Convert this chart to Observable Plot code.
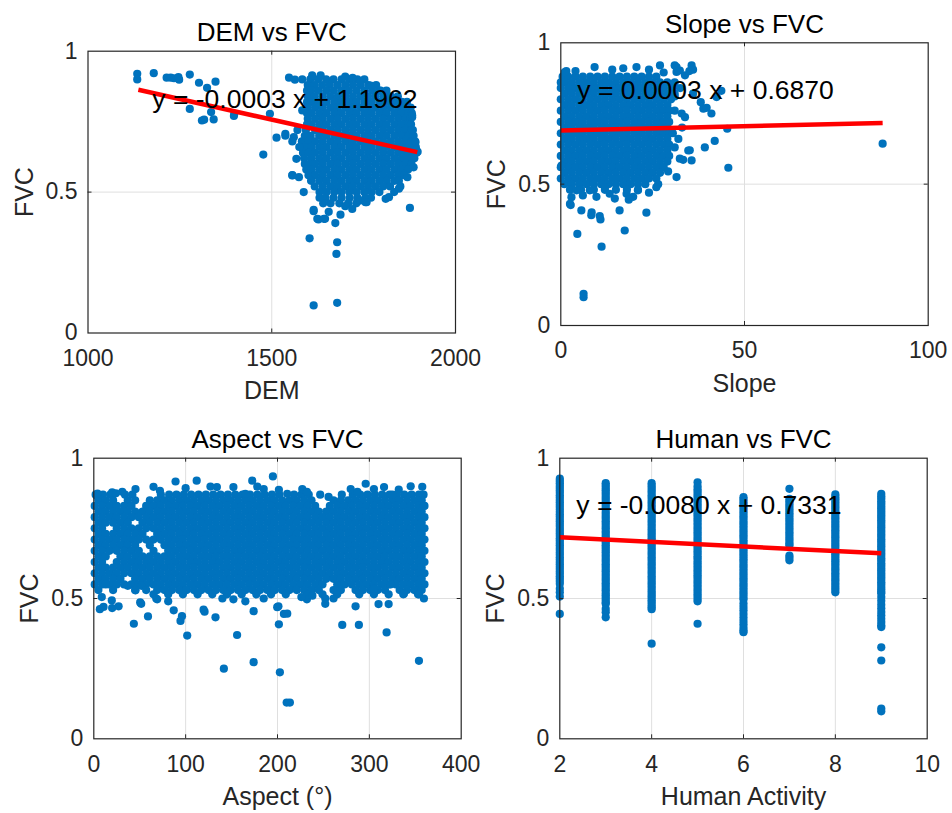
<!DOCTYPE html>
<html><head><meta charset="utf-8">
<script src="https://cdn.jsdelivr.net/npm/d3@7"></script>
<script src="https://cdn.jsdelivr.net/npm/@observablehq/plot@0.6"></script>
<style>
body{margin:0;background:#fff;}
#wrap{position:relative;width:952px;height:813px;overflow:hidden;background:#fff;}
#wrap svg{position:absolute;overflow:visible;}
</style></head><body><div id="wrap"></div>
<script>
// ---------------- DATA ----------------
// Panel 1: DEM vs FVC
const demTicks = [1000, 1500, 2000];
const fvcTicks = [0, 0.5, 1];
const demFitX = [1137, 1896];
const demFitY = [0.863, 0.642];
const demRows = [
 [0.90,[1605,1626,1648,1668,1690,1711,1733,1752]],
 [0.88,[1598,1616,1637,1658,1679,1700,1721,1742,1763,1784]],
 [0.86,[1596,1607,1627,1648,1669,1690,1710,1731,1752,1773,1793,1812]],
 [0.84,[1598,1617,1638,1659,1680,1700,1721,1742,1762,1783,1804,1824,1843]],
 [0.82,[1596,1608,1628,1649,1670,1690,1711,1731,1752,1772,1793,1813,1834,1854,1868]],
 [0.80,[1598,1618,1639,1660,1680,1701,1721,1742,1762,1783,1803,1824,1844,1864,1878]],
 [0.78,[1596,1608,1629,1649,1670,1690,1711,1731,1752,1772,1793,1813,1834,1854,1872,1881]],
 [0.76,[1598,1618,1639,1660,1680,1701,1721,1742,1762,1783,1803,1824,1844,1864,1877]],
 [0.74,[1596,1608,1629,1649,1670,1690,1711,1731,1752,1772,1793,1813,1834,1854,1872,1879]],
 [0.72,[1593,1618,1639,1660,1680,1701,1721,1742,1762,1783,1803,1824,1844,1864,1880]],
 [0.70,[1590,1606,1629,1649,1670,1690,1711,1731,1752,1772,1793,1813,1834,1854,1872,1886]],
 [0.68,[1582,1600,1618,1639,1660,1680,1701,1721,1742,1762,1783,1803,1824,1844,1864,1881,1890]],
 [0.66,[1580,1596,1608,1629,1649,1670,1690,1711,1731,1752,1772,1793,1813,1834,1854,1872,1892]],
 [0.64,[1585,1600,1618,1639,1660,1680,1701,1721,1742,1762,1783,1803,1824,1844,1864,1880,1894]],
 [0.62,[1588,1608,1629,1649,1670,1690,1711,1731,1752,1772,1793,1813,1834,1854,1872,1888]],
 [0.60,[1590,1603,1618,1639,1660,1680,1701,1721,1742,1762,1783,1803,1824,1844,1864,1880]],
 [0.58,[1594,1608,1629,1649,1670,1690,1711,1731,1752,1772,1793,1813,1834,1854,1871]],
 [0.56,[1600,1618,1639,1660,1680,1701,1721,1742,1762,1783,1803,1824,1844,1860]],
 [0.54,[1607,1629,1649,1670,1690,1711,1731,1752,1772,1793,1813,1834,1846]],
 [0.52,[1617,1639,1660,1680,1701,1721,1742,1762,1783,1803,1822]],
 [0.50,[1630,1649,1670,1690,1711,1731,1752,1772,1793]],
 [0.48,[1646,1668,1690,1712,1733,1755,1770]],
 [0.46,[1660,1684,1708,1730]]
];
const demOutliers = [
 [1134,0.92],[1134,0.90],[1179,0.922],[1214,0.906],[1225,0.906],[1234,0.904],[1248,0.899],[1246,0.908],
 [1277,0.917],[1302,0.888],[1324,0.870],[1347,0.892],[1277,0.795],[1310,0.754],[1316,0.757],[1335,0.784],
 [1342,0.758],[1397,0.770],[1398,0.778],[1477,0.633],[1513,0.693],[1537,0.700],[1495,0.778],[1547,0.906],
 [1563,0.899],[1583,0.900],[1556,0.559],[1587,0.500],[1614,0.432],[1627,0.403],[1645,0.405],[1673,0.390],
 [1687,0.420],[1719,0.440],[1755,0.464],[1876,0.444],[1810,0.476],[1833,0.500],[1850,0.520],[1603,0.336],
 [1678,0.322],[1676,0.281],[1614,0.098],[1678,0.107],[1885,0.640],[1897,0.643],[1882,0.766],[1884,0.720],
 [1769,0.878],[1796,0.860],[1823,0.837],[1882,0.772],[1891,0.677],[1893,0.650],[1886,0.588],[1869,0.553],
 [1846,0.512],[1819,0.482],[1758,0.464],[1624,0.405],[1642,0.405],[1614,0.437],[1574,0.553],[1556,0.560],
 [1567,0.618],[1560,0.695],[1537,0.707],[1583,0.790],[1575,0.660],[1570,0.720],[1655,0.430],[1700,0.450],
 [1740,0.470],[1610,0.914],[1633,0.914],[1700,0.910],[1720,0.905],[1640,0.460],[1630,0.480],[1556,0.68]
];

// Panel 2: Slope vs FVC
const slopeTicks = [0, 50, 100];
const slopeFitX = [0, 87.6];
const slopeFitY = [0.690, 0.716];
const slopeRows = [
 [0.88,[0.5,2,4,6,8,10,12,14,16,18,20,22,24,26]],
 [0.86,[0,1,3,5,7,9,11,13,15,17,19,21,23,25,27,29,31]],
 [0.84,[0,2,4,6,8,10,12,14,16,18,20,22,24,26,28,30,32.5]],
 [0.82,[1,3,5,7,9,11,13,15,17,19,21,23,25,27,29,31]],
 [0.80,[0,2,4,6,8,10,12,14,16,18,20,22,24,26,28,30]],
 [0.78,[1,3,5,7,9,11,13,15,17,19,21,23,25,27,29]],
 [0.76,[0,2,4,6,8,10,12,14,16,18,20,22,24,26,28,29.5]],
 [0.74,[1,3,5,7,9,11,13,15,17,19,21,23,25,27,29]],
 [0.72,[0,2,4,6,8,10,12,14,16,18,20,22,24,26,28,29.5]],
 [0.70,[1,3,5,7,9,11,13,15,17,19,21,23,25,27,29]],
 [0.68,[0,2,4,6,8,10,12,14,16,18,20,22,24,26,28,29.5]],
 [0.66,[1,3,5,7,9,11,13,15,17,19,21,23,25,27,29]],
 [0.64,[0,2,4,6,8,10,12,14,16,18,20,22,24,26,28,29.5]],
 [0.62,[1,3,5,7,9,11,13,15,17,19,21,23,25,27,29]],
 [0.60,[0,2,4,6,8,10,12,14,16,18,20,22,24,26,28,29.5]],
 [0.58,[1,3,5,7,9,11,13,15,17,19,21,23,25,27,29]],
 [0.56,[0,2,4,6,8,10,12,14,16,18,20,22,24,26,28]],
 [0.54,[1,3,5,7,9,11,13,15,17,19,21,23,25,27]],
 [0.52,[0,2,4,6,8,10,12,14,16,18,20,22,24,26]],
 [0.50,[1,3,5,7,9,11,13,15,17,19,21,23]],
 [0.48,[2.5,5.5,9,12,15,18,21]]
];
const slopeOutliers = [
 [1.5,0.90],[1.1,0.896],[31,0.92],[32.4,0.902],[35.6,0.92],[36,0.905],[33.8,0.885],[31.5,0.914],[31.5,0.897],
 [35,0.90],[30.6,0.843],[31,0.81],[36,0.82],[38.8,0.767],[38.1,0.79],[39.7,0.77],[41,0.75],[42.4,0.808],
 [43.7,0.83],[45.3,0.696],[41.9,0.653],[39.2,0.63],[45.6,0.558],[35.1,0.62],[34.7,0.619],[35.6,0.584],
 [33.3,0.586],[32.4,0.59],[31.5,0.525],[29.2,0.545],[26.5,0.50],[26,0.489],[31,0.76],[32.9,0.75],
 [33.8,0.737],[33,0.70],[32,0.66],[31,0.63],[30.5,0.68],[2.9,0.454],[2.5,0.43],[5.6,0.407],[8.4,0.40],
 [10.6,0.387],[16,0.407],[17.4,0.336],[23.3,0.399],[11.1,0.279],[4.5,0.324],[6.2,0.10],[6.2,0.112],
 [7.9,0.478],[9.7,0.455],[13.3,0.466],[14.7,0.449],[17.9,0.466],[19.7,0.455],[21,0.478],[4.3,0.478],
 [0.2,0.566],[2.7,0.426],[8.3,0.39],[10.8,0.375],[87.6,0.643],[24,0.47],[12,0.49],[6,0.46],[18.5,0.445],
 [9.2,0.914],[20.6,0.914],[27,0.92],[14,0.905],[24,0.905],[4,0.90],[17,0.91],[28,0.895]
];

// Panel 3: Aspect vs FVC
const aspectTicks = [0, 100, 200, 300, 400];
const aspectRows = [
 [0.87,[2,10,18,34,42,73,82,90,98,106,114,122,130,138,146,154,162,170,178,186,194,202,218,226,234,270,282,290,298,306,314,322,330,338,346,354,359]],
 [0.85,[5,13,21,37,45,61,69,77,85,93,101,109,117,125,133,141,149,157,165,173,181,189,197,205,213,221,229,237,261,269,277,285,293,301,309,317,325,333,341,349,357]],
 [0.83,[1,9,17,25,33,41,57,65,73,81,89,97,105,113,121,129,137,145,153,161,169,177,185,193,201,209,217,225,233,241,257,265,273,281,289,297,305,313,321,329,337,345,353,360]],
 [0.81,[5,13,21,29,37,45,53,61,69,77,85,93,101,109,117,125,133,141,149,157,165,173,181,189,197,205,213,221,229,237,245,253,261,269,277,285,293,301,309,317,325,333,341,349,357]],
 [0.79,[1,9,17,25,33,41,49,57,65,73,81,89,97,105,113,121,129,137,145,153,161,169,177,185,193,201,209,217,225,233,241,249,257,265,273,281,289,297,305,313,321,329,337,345,353,360]],
 [0.77,[5,13,21,29,37,53,61,69,77,85,93,101,109,117,125,133,141,149,157,165,173,181,189,197,205,213,221,229,237,245,253,261,269,277,285,293,301,309,317,325,333,341,349,357]],
 [0.75,[1,9,25,33,41,49,57,65,73,81,89,97,105,113,121,129,137,145,153,161,169,177,185,193,201,209,217,225,233,241,249,257,265,273,281,289,297,305,313,321,329,337,345,353,360]],
 [0.73,[5,13,21,29,37,45,53,69,77,85,93,101,109,117,125,133,141,149,157,165,173,181,189,197,205,213,221,229,237,245,253,261,269,277,285,293,301,309,317,325,333,341,349,357]],
 [0.71,[1,9,17,25,33,41,49,57,65,73,81,89,97,105,113,121,129,137,145,153,161,169,177,185,193,201,209,217,225,233,241,249,257,265,273,281,289,297,305,313,321,329,337,345,353,360]],
 [0.69,[5,13,21,29,37,45,61,77,85,93,101,109,117,125,133,141,149,157,165,173,181,189,197,205,213,221,229,237,245,253,261,269,277,285,293,301,309,317,325,333,341,349,357]],
 [0.67,[1,9,17,25,33,41,49,65,81,89,97,105,113,121,129,137,145,153,161,169,177,185,193,201,209,217,225,233,241,249,257,265,273,281,289,297,305,313,321,329,337,345,353,360]],
 [0.65,[5,13,29,37,45,53,61,69,77,85,93,101,109,117,125,133,141,149,157,165,173,181,189,197,205,213,221,229,237,245,253,261,269,277,285,293,301,309,317,325,333,341,349,357]],
 [0.63,[1,9,25,33,41,49,57,65,73,81,89,97,105,113,121,129,137,145,153,161,169,177,185,193,201,209,217,225,233,241,249,257,265,273,281,289,297,305,313,321,329,337,345,353,360]],
 [0.61,[5,13,21,29,37,45,53,61,69,77,85,93,101,109,117,125,133,141,149,157,165,173,181,189,197,205,213,221,229,237,245,253,261,269,277,285,293,301,309,317,325,333,341,349,357]],
 [0.59,[1,9,17,25,33,41,49,57,65,73,81,89,97,105,113,121,129,137,145,153,161,169,177,185,193,201,209,217,225,233,241,249,257,265,273,281,289,297,305,313,321,329,337,345,353,360]],
 [0.57,[5,13,21,29,45,53,61,69,77,85,93,101,109,117,125,133,141,149,157,165,173,181,189,197,205,213,221,229,237,245,253,261,269,277,285,293,301,309,317,325,333,341,349,357]],
 [0.55,[1,9,17,25,33,41,49,57,65,73,81,89,97,105,113,121,129,137,145,153,161,169,177,185,193,201,209,217,225,233,241,249,265,273,281,289,297,305,313,321,329,337,345,353,360]],
 [0.53,[5,21,45,69,77,85,93,101,109,117,125,133,141,149,157,165,173,181,189,197,205,213,221,229,237,245,261,269,285,293,301,309,317,333,341,349,357]],
 [0.515,[65,81,97,113,129,145,161,177,193,209,233,249,265,289,305,321,337,353]]
];
const aspectOutliers = [
 [3.7,0.864],[4,0.874],[20,0.878],[24,0.875],[31,0.88],[45.4,0.89],[65,0.898],[72,0.884],[89,0.917],
 [100,0.893],[112,0.92],[127,0.899],[134,0.897],[152,0.897],[165,0.873],[172.5,0.92],[178,0.899],[185,0.89],
 [195,0.935],[201.5,0.887],[210.6,0.873],[227,0.89],[232,0.88],[246.5,0.87],[255.6,0.862],[279.7,0.89],
 [287,0.88],[296,0.909],[305,0.89],[316,0.897],[325,0.87],[332,0.888],[345,0.90],[357.6,0.898],[359.4,0.83],
 [6.6,0.462],[20,0.466],[27,0.472],[43.6,0.41],[45.4,0.529],[51.6,0.481],[59,0.436],[69,0.497],[87,0.458],
 [94.4,0.42],[101.7,0.368],[120.6,0.453],[132.5,0.433],[141.6,0.25],[156,0.37],[174,0.455],[174,0.273],
 [201.5,0.408],[202.6,0.237],[210,0.129],[213.5,0.129],[210.6,0.446],[201,0.472],[270.5,0.406],[288.6,0.406],
 [285,0.472],[310,0.48],[321,0.48],[318.8,0.379],[354,0.278],[304,0.535],[252,0.50],[232,0.497],[226,0.505],
 [359.4,0.50],[8.7,0.505],[10.6,0.47],[19.6,0.493],[52,0.545],[50.5,0.486],[68,0.50],[81,0.49],[96,0.437],
 [119.5,0.46],[152,0.497],[140,0.50],[165,0.49],[185,0.50],[199.7,0.469],[207,0.445],[238,0.51],[252,0.481],
 [261,0.50],[305,0.534],[337.6,0.517],[354,0.515],[323,0.55],[13,0.55],[37,0.545],[57,0.53]
];

// Panel 4: Human vs FVC
const humanTicks = [2, 4, 6, 8, 10];
const humanFitX = [2, 9];
const humanFitY = [0.718, 0.661];
const humanLevels = [2, 3, 4, 5, 6, 7, 8, 9];
const humanColumns = [
 [0.927,0.919,0.911,0.902,0.894,0.885,0.877,0.868,0.86,0.851,0.843,0.834,0.826,0.817,0.809,0.8,0.792,0.783,0.775,0.766,0.758,0.749,0.741,0.732,0.724,0.715,0.707,0.698,0.69,0.681,0.673,0.664,0.656,0.647,0.639,0.63,0.622,0.613,0.605,0.596,0.588,0.579,0.571,0.562,0.553,0.535,0.522,0.507,0.445],
 [0.911,0.903,0.894,0.886,0.877,0.869,0.86,0.852,0.843,0.835,0.826,0.818,0.809,0.801,0.792,0.784,0.775,0.767,0.758,0.75,0.741,0.733,0.724,0.716,0.707,0.699,0.69,0.682,0.673,0.665,0.656,0.648,0.639,0.631,0.622,0.614,0.605,0.597,0.588,0.58,0.571,0.563,0.554,0.546,0.537,0.529,0.52,0.512,0.503,0.495,0.486,0.481,0.463,0.451,0.433],
 [0.911,0.902,0.894,0.885,0.877,0.868,0.86,0.851,0.843,0.834,0.826,0.817,0.809,0.8,0.792,0.783,0.775,0.766,0.758,0.749,0.741,0.732,0.724,0.715,0.707,0.698,0.69,0.681,0.673,0.664,0.656,0.647,0.639,0.63,0.622,0.613,0.605,0.596,0.588,0.579,0.571,0.562,0.554,0.545,0.537,0.528,0.52,0.511,0.503,0.494,0.486,0.477,0.469,0.462,0.339],
 [0.914,0.9,0.889,0.881,0.872,0.864,0.855,0.847,0.838,0.83,0.821,0.813,0.804,0.796,0.787,0.779,0.77,0.762,0.753,0.745,0.736,0.728,0.719,0.711,0.702,0.694,0.685,0.677,0.668,0.66,0.651,0.643,0.634,0.626,0.617,0.609,0.6,0.592,0.583,0.575,0.566,0.558,0.549,0.541,0.532,0.524,0.515,0.507,0.498,0.49,0.41],
 [0.861,0.853,0.844,0.836,0.827,0.819,0.81,0.802,0.793,0.785,0.776,0.768,0.759,0.751,0.742,0.734,0.725,0.717,0.708,0.7,0.691,0.683,0.674,0.666,0.657,0.649,0.64,0.632,0.623,0.615,0.606,0.598,0.589,0.581,0.572,0.564,0.555,0.547,0.538,0.53,0.521,0.513,0.504,0.496,0.482,0.47,0.458,0.445,0.432,0.42,0.408,0.396,0.386,0.38],
 [0.891,0.855,0.847,0.838,0.83,0.821,0.813,0.804,0.796,0.787,0.779,0.77,0.762,0.753,0.745,0.736,0.728,0.719,0.711,0.702,0.694,0.689,0.653,0.645,0.636],
 [0.871,0.862,0.854,0.845,0.837,0.828,0.82,0.811,0.803,0.794,0.786,0.777,0.769,0.76,0.752,0.743,0.735,0.726,0.718,0.709,0.701,0.692,0.684,0.675,0.667,0.658,0.65,0.641,0.633,0.624,0.616,0.607,0.599,0.59,0.582,0.573,0.565,0.556,0.548,0.539,0.531,0.522],
 [0.873,0.864,0.856,0.847,0.839,0.83,0.822,0.813,0.805,0.796,0.788,0.779,0.771,0.762,0.754,0.745,0.737,0.728,0.72,0.711,0.703,0.694,0.686,0.677,0.669,0.66,0.652,0.643,0.635,0.626,0.618,0.609,0.601,0.592,0.584,0.575,0.567,0.558,0.55,0.541,0.533,0.524,0.519,0.505,0.492,0.478,0.465,0.452,0.44,0.428,0.416,0.405,0.398,0.326,0.279,0.108,0.098]
];

// ---------------- RENDER ----------------
const BLUE = "#0072BD", INK = "#262626", FONT = "'Liberation Sans', Arial, Helvetica, sans-serif";
const fromRows = rows => rows.flatMap(([y, xs]) => xs.map(x => ({x, y})));
const fromPairs = ps => ps.map(([x, y]) => ({x, y}));
const fromColumns = (levels, cols) => levels.flatMap((x, i) => cols[i].map(y => ({x, y})));

function panel(o) {
  const [x0, x1] = [o.xTicks[0], o.xTicks[o.xTicks.length - 1]];
  const fw = o.w - o.ml - o.mr, fh = o.h - o.mt - o.mb;
  const tx = 4 * (x1 - x0) / fw, ty = 4 / fh;
  const ix = o.xTicks.slice(1, -1), iy = fvcTicks.slice(1, -1);
  const marks = [
    Plot.ruleX(ix, {stroke: "#dfdfdf", strokeWidth: 1}),
    Plot.ruleY(iy, {stroke: "#dfdfdf", strokeWidth: 1}),
    Plot.dot(o.points, {x: "x", y: "y", r: 4.1, fill: BLUE})
  ];
  if (o.fitX) marks.push(Plot.line(o.fitX.map((x, i) => ({x, y: o.fitY[i]})),
    {x: "x", y: "y", stroke: "#ff0000", strokeWidth: 4.5, strokeLinecap: "butt"}));
  marks.push(
    Plot.frame({stroke: INK, strokeWidth: 1.2}),
    Plot.ruleX(ix, {y1: 0, y2: ty, stroke: INK}),
    Plot.ruleX(ix, {y1: 1 - ty, y2: 1, stroke: INK}),
    Plot.ruleY(iy, {x1: x0, x2: x0 + tx, stroke: INK}),
    Plot.ruleY(iy, {x1: x1 - tx, x2: x1, stroke: INK}),
    Plot.text(o.xTicks, {x: d => d, text: d => String(d), frameAnchor: "bottom", lineAnchor: "middle", dy: 25.5, fontSize: 23, fill: INK}),
    Plot.text(fvcTicks, {y: d => d, text: d => String(d), frameAnchor: "left", textAnchor: "end", lineAnchor: "middle", dx: -10.5, fontSize: 23, fill: INK}),
    Plot.text([o.xLabel], {frameAnchor: "bottom", lineAnchor: "middle", textAnchor: "middle", dy: 58, fontSize: 25, fill: INK}),
    Plot.text(["FVC"], {frameAnchor: "left", lineAnchor: "middle", textAnchor: "middle", dx: -63.5, rotate: -90, fontSize: 25, fill: INK}),
    Plot.text([o.title], {frameAnchor: "top", lineAnchor: "middle", textAnchor: "middle", dy: o.titleDy, fontSize: 26, fill: "#000"})
  );
  if (o.eq) marks.push(Plot.text([o.eq], {x: o.eqX, y: 0.83, textAnchor: "start", lineAnchor: "middle", fontSize: 26.5, fill: "#000"}));
  const svg = Plot.plot({
    width: o.w, height: o.h,
    marginLeft: o.ml, marginRight: o.mr, marginTop: o.mt, marginBottom: o.mb,
    x: {domain: [x0, x1], axis: null},
    y: {domain: [0, 1], axis: null},
    style: {fontFamily: FONT, background: "transparent", overflow: "visible"},
    marks
  });
  svg.style.left = o.left + "px";
  svg.style.top = o.top + "px";
  document.getElementById("wrap").appendChild(svg);
}

panel({left: 0, top: 0, w: 476, h: 406, ml: 87.5, mr: 21, mt: 50.7, mb: 73.5, titleDy: -19,
  xTicks: demTicks, points: fromRows(demRows).concat(fromPairs(demOutliers)),
  fitX: demFitX, fitY: demFitY, eq: "y = -0.0003 x + 1.1962", eqX: 1175,
  title: "DEM vs FVC", xLabel: "DEM"});
panel({left: 476, top: 0, w: 476, h: 406, ml: 84.3, mr: 24.3, mt: 42.3, mb: 81, titleDy: -18.3,
  xTicks: slopeTicks, points: fromRows(slopeRows).concat(fromPairs(slopeOutliers)),
  fitX: slopeFitX, fitY: slopeFitY, eq: "y = 0.0003 x + 0.6870", eqX: 4.5,
  title: "Slope vs FVC", xLabel: "Slope"});
panel({left: 0, top: 406, w: 476, h: 407, ml: 93.3, mr: 15.3, mt: 51.7, mb: 74.7, titleDy: -18.4,
  xTicks: aspectTicks, points: fromRows(aspectRows).concat(fromPairs(aspectOutliers)),
  title: "Aspect vs FVC", xLabel: "Aspect (°)"});
panel({left: 476, top: 406, w: 476, h: 407, ml: 83.3, mr: 25.3, mt: 51.7, mb: 74.7, titleDy: -18.4,
  xTicks: humanTicks, points: fromColumns(humanLevels, humanColumns),
  fitX: humanFitX, fitY: humanFitY, eq: "y = -0.0080 x + 0.7331", eqX: 2.36,
  title: "Human vs FVC", xLabel: "Human Activity"});
</script></body></html>
